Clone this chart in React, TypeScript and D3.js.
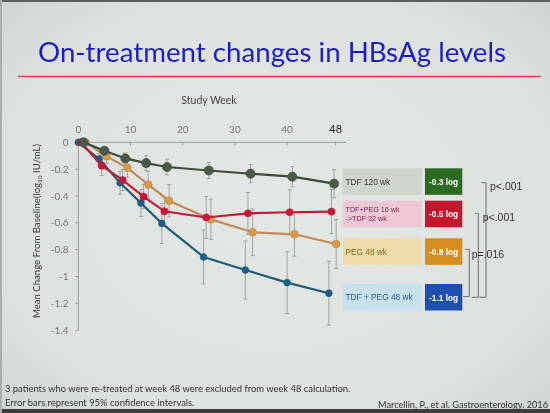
import React from 'react';
import * as d3 from 'd3';

// ---------- data ----------
const weeks = [0, 4, 8, 12, 16, 24, 32, 40, 48];
const tdf120 = [0, -0.063, -0.12, -0.155, -0.184, -0.21, -0.234, -0.256, -0.308];
const tdf120Ci = [0, 0.025, 0.04, 0.055, 0.058, 0.06, 0.068, 0.075, 0.105];
const tdfPeg16 = [0, -0.174, -0.282, -0.405, -0.514, -0.56, -0.529, -0.521, -0.516];
const tdfPeg16Ci = [0, 0.072, 0.078, 0.09, 0.1, 0.155, 0.155, 0.167, 0.165];
const peg48 = [0, -0.105, -0.19, -0.315, -0.435, -0.574, -0.67, -0.685, -0.757];
const peg48Ci = [0, 0.05, 0.07, 0.1, 0.12, 0.15, 0.174, 0.163, 0.182];
const tdfPeg48 = [0, -0.124, -0.302, -0.452, -0.604, -0.854, -0.951, -1.045, -1.124];
const tdfPeg48Ci = [0, 0.04, 0.085, 0.1, 0.149, 0.2, 0.216, 0.23, 0.238];

const yTicks = [0, -0.2, -0.4, -0.6, -0.8, -1, -1.2, -1.4];
const yTickLabels = ['0', '-0.2', '-0.4', '-0.6', '-0.8', '-1', '-1.2', '-1.4'];
const xTickPos = [0, 10, 20, 30, 40, 49.3];
const xTickLabels = ['0', '10', '20', '30', '40', '48'];

const legendLabels = [['TDF  120 wk'], ['TDF+PEG 16 wk', '->TDF 32 wk'], ['PEG 48 wk'], ['TDF  + PEG 48 wk']];
const legendValues = ['-0.3 log', '-0.5 log', '-0.8 log', '-1.1 log'];
const pLabels = ['p<.001', 'p<.001', 'p=.016'];

// ---------- styles / layout ----------
const FONT = 'Lato, "Open Sans", sans-serif';
const ARIAL = '"Liberation Sans", Arial, sans-serif';
const seriesStyle = [
  { values: tdf120, ci: tdf120Ci, line: '#3e4b3c', point: '#4a5a47', r: 4.6, off: 1.0 },
  { values: tdfPeg16, ci: tdfPeg16Ci, line: '#c31a3a', point: '#c8163a', r: 3.6, off: 0.5 },
  { values: peg48, ci: peg48Ci, line: '#c38a5c', point: '#d99a40', r: 3.9, off: 1.4 },
  { values: tdfPeg48, ci: tdfPeg48Ci, line: '#1f5d77', point: '#1f5f8e', r: 3.4, off: 0 },
];
const drawOrder = [3, 2, 1, 0];
const legendRows = [168.3, 200.7, 238.3, 284];
const legendFill = ['#cfd4cd', '#efc7d6', '#efdcab', '#c7e2ec'];
const legendText = ['#3a3a3a', '#7a2a52', '#8a6a18', '#2a5a98'];
const valueFill = ['#2d6a22', '#c2172c', '#d48f1e', '#1c4fae'];

export default function App() {
  const W = 550, H = 413;
  const x = d3.scaleLinear().domain([0, 51.3]).range([78.3, 346.1]);
  const y = d3.scaleLinear().domain([0, -1.4]).range([142.3, 330.3]);
  const line = d3.line<[number, number]>().x(d => d[0]).y(d => d[1]);

  return (
    <div style={{ position: 'fixed', left: 0, top: 0, width: W, height: H }}>
      <svg width={W} height={H} style={{ display: 'block' }} fontFamily={FONT}>
        <defs>
          <radialGradient id="bg" cx="50%" cy="50%" r="75%">
            <stop offset="0%" stopColor="#e3e8e5" />
            <stop offset="70%" stopColor="#dde2df" />
            <stop offset="100%" stopColor="#cbd2ce" />
          </radialGradient>
        </defs>
        <rect x={0} y={0} width={W} height={H} fill="url(#bg)" />
        <rect x={0} y={0} width={W} height={2} fill="#5b5f5e" />
        <rect x={0} y={409} width={W} height={4} fill="#3c3e3e" />
        <rect x={0} y={0} width={2} height={H} fill="#a9afac" />

        {/* title */}
        <text x={38} y={62} fontSize={26} fill="#1c1cc8" textLength={468} lengthAdjust="spacingAndGlyphs">
          On-treatment changes in HBsAg levels
        </text>
        <line x1={18} x2={541} y1={76.5} y2={76.5} stroke="#d9445a" strokeWidth={1.5} />

        {/* x axis */}
        <text x={209} y={104} fontSize={10.5} fill="#444" textAnchor="middle">Study Week</text>
        <line x1={x(0)} x2={x(51.3)} y1={y(0)} y2={y(0)} stroke="#9a9e9c" strokeWidth={1} />
        {xTickPos.map((t, i) => (
          <g key={'xt' + i}>
            <line x1={x(t)} x2={x(t)} y1={y(0)} y2={y(0) + 3} stroke="#9a9e9c" />
            <text x={x(t)} y={132.5} fontSize={i === 5 ? 11 : 10} fill={i === 5 ? '#222' : '#777'} textAnchor="middle">
              {xTickLabels[i]}
            </text>
          </g>
        ))}

        {/* y axis */}
        <line x1={x(0)} x2={x(0)} y1={y(0)} y2={y(-1.4)} stroke="#9a9e9c" strokeWidth={1} />
        {yTicks.map((t, i) => (
          <g key={'yt' + i}>
            <line x1={x(0) - 3} x2={x(0)} y1={y(t)} y2={y(t)} stroke="#9a9e9c" />
            <text x={68.5} y={y(t) + 3.5} fontSize={10} fill="#777" textAnchor="end">{yTickLabels[i]}</text>
          </g>
        ))}
        <text transform="translate(40,231) rotate(-90)" fontSize={9.6} fill="#3a3a3a" textAnchor="middle">
          Mean Change From Baseline(log<tspan fontSize={6.5} dy={2}>10</tspan><tspan dy={-2}> IU/mL)</tspan>
        </text>

        {/* error bars */}
        {drawOrder.map(si => {
          const s = seriesStyle[si];
          return weeks.map((w, i) => s.ci[i] > 0 ? (
            <g key={'e' + si + '-' + i} stroke="#a0a4a2" strokeWidth={1}>
              <line x1={x(w + s.off)} x2={x(w + s.off)} y1={y(s.values[i] + s.ci[i])} y2={y(s.values[i] - s.ci[i])} />
              <line x1={x(w + s.off) - 2} x2={x(w + s.off) + 2} y1={y(s.values[i] + s.ci[i])} y2={y(s.values[i] + s.ci[i])} />
              <line x1={x(w + s.off) - 2} x2={x(w + s.off) + 2} y1={y(s.values[i] - s.ci[i])} y2={y(s.values[i] - s.ci[i])} />
            </g>
          ) : null);
        })}

        {/* lines and points */}
        {drawOrder.map(si => {
          const s = seriesStyle[si];
          const pts: [number, number][] = weeks.map((w, i) => [x(w + s.off), y(s.values[i])]);
          return (
            <g key={'s' + si}>
              <path d={line(pts) || ''} fill="none" stroke={s.line} strokeWidth={2.2} />
              {pts.map((p, i) => (
                <circle key={i} cx={p[0]} cy={p[1]} r={s.r} fill={s.point} stroke={s.line} strokeWidth={0.6} />
              ))}
            </g>
          );
        })}

        {/* legend boxes */}
        {legendRows.map((ry, i) => (
          <g key={'lg' + i} fontFamily={ARIAL}>
            <rect x={342.7} y={ry} width={79} height={26.5} fill={legendFill[i]} />
            {legendLabels[i].map((t, j) => (
              <text key={j} x={345.5} y={legendLabels[i].length === 1 ? ry + 16.3 : ry + 11 + j * 9}
                fontSize={legendLabels[i].length === 1 ? 8.3 : 7.2} fill={legendText[i]}>{t}</text>
            ))}
            <rect x={425} y={ry} width={37.3} height={26.5} fill={valueFill[i]} />
            <text x={443.6} y={ry + 16.5} fontSize={8.3} fontWeight="bold" fill="#fff" textAnchor="middle">{legendValues[i]}</text>
          </g>
        ))}

        {/* significance brackets */}
        <g stroke="#6c706e" strokeWidth={1} fill="none">
          <polyline points="481.7,182.7 486,182.7 486,297.3 479.3,297.3" />
          <polyline points="475,213.3 478.3,213.3 478.3,297.3 471.7,297.3" />
          <polyline points="465,249.3 469.3,249.3 469.3,296.7 463.3,296.7" />
        </g>
        <g fontFamily={ARIAL} fontSize={10.5} fill="#333">
          <text x={490} y={190}>{pLabels[0]}</text>
          <text x={482.7} y={221}>{pLabels[1]}</text>
          <text x={471.7} y={258}>{pLabels[2]}</text>
        </g>

        {/* footnotes */}
        <text x={5} y={392} fontSize={9.4} fill="#333">3 patients who were re-treated at week 48 were excluded from week 48 calculation.</text>
        <text x={5} y={405.5} fontSize={9.4} fill="#333">Error bars represent 95% confidence intervals.</text>
        <text x={548} y={407.5} fontSize={9.2} fill="#333" textAnchor="end">Marcellin, P., et al. Gastroenterology. 2016</text>
      </svg>
    </div>
  );
}
